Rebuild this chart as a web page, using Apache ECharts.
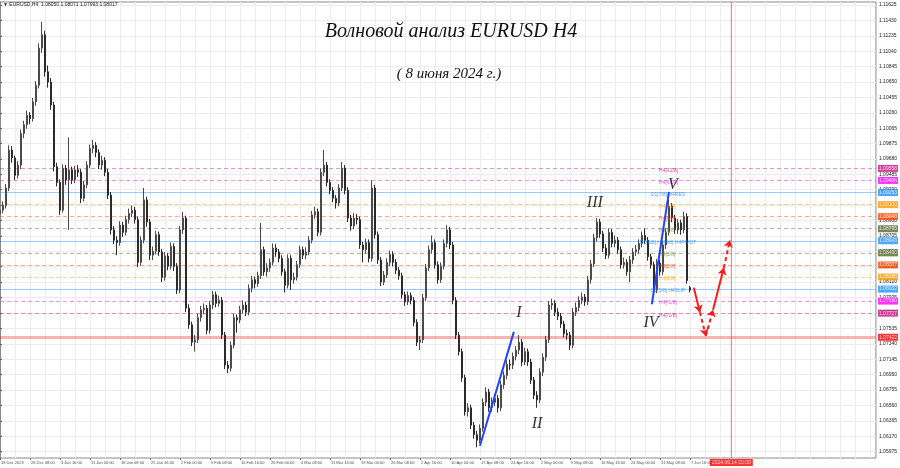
<!DOCTYPE html>
<html><head><meta charset="utf-8">
<script src="https://cdn.jsdelivr.net/npm/echarts@6/dist/echarts.min.js"></script>
<style>html,body{margin:0;padding:0;background:#fff}#c{width:900px;height:468px}</style>
</head><body><div id="c"></div>
<script>
// ---- data ----
const xLabels = ['18 Dec 2023','26 Dec 08:00','3 Jan 16:00','11 Jan 00:00','18 Jan 08:00','25 Jan 16:00','2 Feb 00:00','9 Feb 08:00','16 Feb 16:00','26 Feb 00:00','4 Mar 08:00','11 Mar 16:00','19 Mar 00:00','26 Mar 08:00','2 Apr 16:00','10 Apr 00:00','17 Apr 08:00','24 Apr 16:00','2 May 00:00','9 May 08:00','16 May 16:00','24 May 00:00','31 May 08:00','7 Jun 16:00'];
const yTickValues = [1.05975,1.06170,1.06365,1.06560,1.06755,1.06950,1.07145,1.07340,1.07535,1.07730,1.07925,1.08120,1.08315,1.08510,1.08705,1.08900,1.09095,1.09290,1.09485,1.09680,1.09875,1.10065,1.10260,1.10455,1.10650,1.10845,1.11040,1.11235,1.11430,1.11625];
// candles: [open, close, low, high]
const candles = [
[1.0898,1.0903,1.0893,1.0907],[1.0903,1.0909,1.0899,1.0914],[1.0909,1.0931,1.0905,1.0936],[1.0931,1.0979,1.0927,1.0985],[1.0979,1.0969,1.0963,1.0984],
[1.0969,1.0947,1.0941,1.0972],[1.0947,1.0960,1.0943,1.0965],[1.0960,1.1000,1.0955,1.1005],[1.1000,1.1011,1.0994,1.1016],[1.1011,1.1023,1.1006,1.1029],
[1.1023,1.1019,1.1012,1.1027],[1.1019,1.1040,1.1015,1.1045],[1.1040,1.1061,1.1035,1.1066],[1.1061,1.1108,1.1057,1.1114],[1.1108,1.1125,1.1102,1.1141],
[1.1125,1.1078,1.1072,1.1130],[1.1078,1.1065,1.1058,1.1086],[1.1065,1.1036,1.1030,1.1070],[1.1036,1.0958,1.0952,1.1040],[1.0958,1.0938,1.0933,1.0963],
[1.0938,1.0903,1.0897,1.0942],[1.0903,1.0956,1.0900,1.0961],[1.0956,1.0941,1.0935,1.0960],[1.0941,1.0954,1.0878,1.0995],[1.0954,1.0941,1.0936,1.0958],
[1.0941,1.0954,1.0937,1.0959],[1.0954,1.0951,1.0945,1.0960],[1.0951,1.0918,1.0912,1.0955],[1.0918,1.0935,1.0914,1.0940],[1.0935,1.0960,1.0931,1.0965],
[1.0960,1.0981,1.0956,1.0986],[1.0981,1.0985,1.0975,1.0992],[1.0985,1.0976,1.0970,1.0989],[1.0976,1.0960,1.0955,1.0980],[1.0960,1.0966,1.0954,1.0972],
[1.0966,1.0951,1.0946,1.0970],[1.0951,1.0922,1.0917,1.0955],[1.0922,1.0878,1.0872,1.0926],[1.0878,1.0865,1.0860,1.0883],[1.0865,1.0862,1.0846,1.0870],
[1.0862,1.0884,1.0858,1.0889],[1.0884,1.0875,1.0869,1.0888],[1.0875,1.0891,1.0871,1.0896],[1.0891,1.0899,1.0886,1.0905],[1.0899,1.0903,1.0894,1.0909],
[1.0903,1.0891,1.0886,1.0907],[1.0891,1.0837,1.0831,1.0895],[1.0837,1.0865,1.0833,1.0870],[1.0865,1.0916,1.0861,1.0931],[1.0916,1.0888,1.0882,1.0920],
[1.0888,1.0846,1.0840,1.0892],[1.0846,1.0851,1.0840,1.0857],[1.0851,1.0872,1.0847,1.0877],[1.0872,1.0850,1.0845,1.0876],[1.0850,1.0818,1.0812,1.0854],
[1.0818,1.0845,1.0814,1.0850],[1.0845,1.0832,1.0827,1.0849],[1.0832,1.0857,1.0828,1.0862],[1.0857,1.0832,1.0826,1.0861],[1.0832,1.0802,1.0797,1.0836],
[1.0802,1.0878,1.0798,1.0883],[1.0878,1.0893,1.0873,1.0901],[1.0893,1.0779,1.0774,1.0896],[1.0779,1.0758,1.0753,1.0784],[1.0758,1.0736,1.0731,1.0762],
[1.0736,1.0739,1.0724,1.0745],[1.0739,1.0767,1.0735,1.0772],[1.0767,1.0777,1.0762,1.0782],[1.0777,1.0779,1.0771,1.0785],[1.0779,1.0751,1.0746,1.0783],
[1.0751,1.0783,1.0747,1.0788],[1.0783,1.0796,1.0778,1.0801],[1.0796,1.0785,1.0780,1.0800],[1.0785,1.0789,1.0781,1.0795],[1.0789,1.0745,1.0740,1.0793],
[1.0745,1.0707,1.0702,1.0749],[1.0707,1.0703,1.0697,1.0712],[1.0703,1.0732,1.0699,1.0737],[1.0732,1.0767,1.0728,1.0772],[1.0767,1.0764,1.0748,1.0771],
[1.0764,1.0777,1.0760,1.0782],[1.0777,1.0783,1.0772,1.0789],[1.0783,1.0774,1.0769,1.0787],[1.0774,1.0804,1.0770,1.0809],[1.0804,1.0815,1.0799,1.0820],
[1.0815,1.0810,1.0804,1.0819],[1.0810,1.0820,1.0806,1.0825],[1.0820,1.0853,1.0816,1.0887],[1.0853,1.0825,1.0820,1.0857],[1.0825,1.0830,1.0819,1.0836],
[1.0830,1.0837,1.0825,1.0842],[1.0837,1.0855,1.0833,1.0861],[1.0855,1.0850,1.0844,1.0860],[1.0850,1.0842,1.0837,1.0854],[1.0842,1.0825,1.0820,1.0846],
[1.0825,1.0808,1.0799,1.0829],[1.0808,1.0842,1.0804,1.0847],[1.0842,1.0815,1.0802,1.0846],[1.0815,1.0818,1.0810,1.0824],[1.0818,1.0834,1.0814,1.0839],
[1.0834,1.0853,1.0830,1.0858],[1.0853,1.0846,1.0841,1.0857],[1.0846,1.0850,1.0841,1.0856],[1.0850,1.0865,1.0846,1.0870],[1.0865,1.0897,1.0861,1.0902],
[1.0897,1.0901,1.0892,1.0907],[1.0901,1.0875,1.0870,1.0905],[1.0875,1.0951,1.0871,1.0956],[1.0951,1.0960,1.0946,1.0979],[1.0960,1.0938,1.0933,1.0964],
[1.0938,1.0928,1.0923,1.0942],[1.0928,1.0918,1.0913,1.0932],[1.0918,1.0912,1.0905,1.0922],[1.0912,1.0931,1.0908,1.0936],[1.0931,1.0956,1.0927,1.0964],
[1.0956,1.0928,1.0923,1.0960],[1.0928,1.0893,1.0888,1.0932],[1.0893,1.0883,1.0877,1.0897],[1.0883,1.0893,1.0879,1.0899],[1.0893,1.0891,1.0885,1.0898],
[1.0891,1.0859,1.0854,1.0895],[1.0859,1.0853,1.0837,1.0863],[1.0853,1.0862,1.0848,1.0867],[1.0862,1.0842,1.0837,1.0866],[1.0842,1.0931,1.0838,1.0941],
[1.0931,1.0872,1.0867,1.0935],[1.0872,1.0840,1.0835,1.0876],[1.0840,1.0812,1.0807,1.0844],[1.0812,1.0821,1.0808,1.0826],[1.0821,1.0837,1.0817,1.0842],
[1.0837,1.0847,1.0832,1.0852],[1.0847,1.0837,1.0832,1.0851],[1.0837,1.0827,1.0822,1.0841],[1.0827,1.0820,1.0815,1.0831],[1.0820,1.0796,1.0791,1.0824],
[1.0796,1.0787,1.0782,1.0800],[1.0787,1.0795,1.0783,1.0800],[1.0795,1.0789,1.0784,1.0799],[1.0789,1.0761,1.0756,1.0793],[1.0761,1.0736,1.0731,1.0765],
[1.0736,1.0739,1.0726,1.0744],[1.0739,1.0792,1.0735,1.0797],[1.0792,1.0830,1.0788,1.0835],[1.0830,1.0853,1.0826,1.0858],[1.0853,1.0862,1.0848,1.0871],
[1.0862,1.0834,1.0829,1.0866],[1.0834,1.0815,1.0810,1.0838],[1.0815,1.0832,1.0811,1.0837],[1.0832,1.0861,1.0828,1.0866],[1.0861,1.0878,1.0856,1.0884],
[1.0878,1.0859,1.0854,1.0882],[1.0859,1.0789,1.0784,1.0863],[1.0789,1.0745,1.0740,1.0793],[1.0745,1.0724,1.0719,1.0749],[1.0724,1.0691,1.0686,1.0728],
[1.0691,1.0648,1.0643,1.0695],[1.0648,1.0653,1.0642,1.0659],[1.0653,1.0631,1.0626,1.0657],[1.0631,1.0619,1.0614,1.0635],[1.0619,1.0612,1.0603,1.0624],
[1.0612,1.0627,1.0608,1.0632],[1.0627,1.0660,1.0623,1.0665],[1.0660,1.0673,1.0655,1.0679],[1.0673,1.0653,1.0648,1.0677],[1.0653,1.0660,1.0648,1.0666],
[1.0660,1.0665,1.0655,1.0671],[1.0665,1.0653,1.0647,1.0669],[1.0653,1.0682,1.0649,1.0687],[1.0682,1.0694,1.0677,1.0699],[1.0694,1.0708,1.0689,1.0713],
[1.0708,1.0707,1.0701,1.0714],[1.0707,1.0718,1.0702,1.0723],[1.0718,1.0726,1.0713,1.0731],[1.0726,1.0736,1.0721,1.0745],[1.0736,1.0711,1.0706,1.0740],
[1.0711,1.0724,1.0707,1.0729],[1.0724,1.0711,1.0706,1.0728],[1.0711,1.0688,1.0683,1.0715],[1.0688,1.0669,1.0664,1.0692],[1.0669,1.0663,1.0653,1.0674],
[1.0663,1.0698,1.0659,1.0703],[1.0698,1.0717,1.0693,1.0722],[1.0717,1.0739,1.0712,1.0744],[1.0739,1.0783,1.0735,1.0788],[1.0783,1.0785,1.0777,1.0791],
[1.0785,1.0774,1.0769,1.0789],[1.0774,1.0769,1.0764,1.0779],[1.0769,1.0759,1.0754,1.0773],[1.0759,1.0747,1.0742,1.0763],[1.0747,1.0745,1.0739,1.0752],
[1.0745,1.0732,1.0726,1.0749],[1.0732,1.0774,1.0728,1.0779],[1.0774,1.0780,1.0769,1.0786],[1.0780,1.0789,1.0775,1.0794],[1.0789,1.0793,1.0784,1.0799],
[1.0793,1.0787,1.0782,1.0797],[1.0787,1.0815,1.0783,1.0820],[1.0815,1.0835,1.0810,1.0840],[1.0835,1.0868,1.0831,1.0873],[1.0868,1.0888,1.0863,1.0893],
[1.0888,1.0873,1.0868,1.0892],[1.0873,1.0855,1.0850,1.0877],[1.0855,1.0846,1.0841,1.0860],[1.0846,1.0875,1.0842,1.0880],[1.0875,1.0861,1.0856,1.0879],
[1.0861,1.0865,1.0856,1.0871],[1.0865,1.0853,1.0848,1.0869],[1.0853,1.0834,1.0829,1.0857],[1.0834,1.0837,1.0829,1.0843],[1.0837,1.0825,1.0820,1.0841],
[1.0825,1.0840,1.0812,1.0845],[1.0840,1.0850,1.0835,1.0855],[1.0850,1.0853,1.0845,1.0859],[1.0853,1.0861,1.0848,1.0866],[1.0861,1.0871,1.0856,1.0876],
[1.0871,1.0865,1.0860,1.0880],[1.0865,1.0844,1.0839,1.0869],[1.0844,1.0834,1.0829,1.0848],[1.0834,1.0802,1.0796,1.0838],[1.0802,1.0836,1.0798,1.0841],
[1.0836,1.0825,1.0820,1.0840],[1.0825,1.0859,1.0821,1.0864],[1.0859,1.0875,1.0854,1.0880],[1.0875,1.0908,1.0871,1.0916],[1.0908,1.0893,1.0888,1.0912],
[1.0893,1.0878,1.0873,1.0897],[1.0878,1.0887,1.0873,1.0892],[1.0887,1.0878,1.0872,1.0891],[1.0878,1.0895,1.0874,1.0901],[1.0895,1.0814,1.0810,1.0899],
[1.0805,1.0802,1.0799,1.0807]
];
// Murray levels (price, tag text, inline name)
const levelPrices = [1.09558,1.09406,1.09253,1.09100,1.08948,1.08795,1.08643,1.08490,1.08337,1.08185,1.08032,1.07880,1.07727,1.07422];
const levelTags   = ['1.09558','1.09406','1.09253','1.09100','1.08948','1.08795','1.08643','1.08490','1.08337','1.08185','1.08032','1.07880','1.07727','1.07422'];
const levelNames  = ['H4[+2/8]','H4[+1/8]','D1[7/8] H4RES','H4[7/8]','H4[6/8]','H4[5/8]','D1[6/8] H4[4/8] H4PIVOT','H4[3/8]','H4[2/8]','H4[1/8]','D1[5/8] H4SUP','H4[-1/8]','H4[-2/8]',''];
// wave marks
const waveNames = ['I','II','III','IV','V'];
const waveBar   = [173, 179, 198.3, 217, 224.3];
const wavePrice = [1.0773, 1.0633, 1.0912, 1.0761, 1.0935];
// trend lines (bar, price)
const trendI = [[160, 1.0605], [171.3, 1.0749]];
const trendV = [[217.3, 1.0784], [223, 1.0926]];
// forecast path (bar, price) and segment dash flags
const forecastBar   = [231.3, 233.3, 235.3, 237.7, 241.3, 243.3];
const forecastPrice = [1.0805, 1.0774, 1.0744, 1.0777, 1.0830, 1.0865];
const forecastDashed = [false, true, true, false, true];
const futureLineBar = 243.8;
const futureLabel = '2024.06.14 20:00';
const headerText = '\u25BC EURUSD,H4  1.08050 1.08071 1.07993 1.08017';
const titleText = 'Волновой анализ EURUSD H4';
const subTitleText = '( 8 июня 2024 г.)';

// ---- styles / layout ----
const YMIN = 1.05895, YMAX = 1.11663;
const NCAT = 293;
const levelColors = ['#c71585','#ff00ff','#1e90ff','#ff9900','#ff4500','#556b2f','#1e90ff','#556b2f','#ff4500','#ff9900','#1e90ff','#ff00ff','#c71585','#ff0000'];
const levelTextColors = ['#c71585','#e020e0','#1e90ff','#ff9900','#ff4500','#6b8e23','#1e90ff','#6b8e23','#ff4500','#ff9900','#1e90ff','#e020e0','#c71585',''];
const levelDashed = [true,true,false,true,true,true,false,true,true,true,false,true,true,false];
const nameBar = [219.7,219.7,217,219.7,219.7,219.7,213.3,219.7,219.7,219.7,217,219.7,219.7,0];
const FONT = 'Liberation Sans';

const cats = Array.from({length: NCAT}, (_, i) => String(i));
const labelIdx = i => i % 10 === 0 && i / 10 < xLabels.length;

const chart = echarts.init(document.getElementById('c'), null, {renderer: 'canvas'});

const gridLineData = yTickValues.map(v => ({coords: [[0, v], [NCAT - 1, v]]}));
const levelLineData = levelPrices.map((p, i) => ({
  coords: [[0, p], [NCAT - 1, p]],
  lineStyle: {
    color: levelColors[i],
    type: levelDashed[i] ? [4, 3] : 'solid',
    width: i === 13 ? 3 : 1,
    opacity: i === 13 ? 0.3 : 0.45
  }
}));
const tagData = levelPrices.map((p, i) => ({
  value: [NCAT - 1, p], name: levelTags[i],
  label: {backgroundColor: levelColors[i]}
}));
const nameData = [];
levelNames.forEach((n, i) => {
  if (n) nameData.push({value: [nameBar[i], levelPrices[i]], name: n, label: {color: levelTextColors[i]}});
});
const forecastData = [];
for (let i = 0; i < forecastBar.length - 1; i++) {
  forecastData.push({
    coords: [[forecastBar[i], forecastPrice[i]], [forecastBar[i + 1], forecastPrice[i + 1]]],
    lineStyle: {type: forecastDashed[i] ? [4, 3] : 'solid'}
  });
}
const dateLabelData = xLabels.map((t, k) => ({value: [k * 10, YMIN], name: t}));

const option = {
  backgroundColor: '#ffffff',
  animation: false,
  grid: {left: 0, right: 24, top: 2, bottom: 10, show: true, borderColor: '#8a8a8a', borderWidth: 1},
  xAxis: [{
    type: 'category', data: cats, boundaryGap: false,
    axisLine: {show: false},
    axisTick: {show: true, interval: labelIdx, length: 2, lineStyle: {color: '#666'}},
    axisLabel: {show: false},
    splitLine: {show: true, interval: i => i % 5 === 0, lineStyle: {color: '#ececec', width: 1}}
  }, {
    type: 'value', min: 0, max: NCAT - 1, show: false
  }],
  yAxis: {
    type: 'value', position: 'right', min: YMIN, max: YMAX, scale: true,
    axisLine: {show: true, lineStyle: {color: '#8a8a8a'}},
    axisTick: {show: true, length: 2, customValues: yTickValues, lineStyle: {color: '#666'}},
    axisLabel: {customValues: yTickValues, formatter: v => v.toFixed(5), fontSize: 5, color: '#222',
      fontFamily: FONT, margin: 3},
    splitLine: {show: false}
  },
  graphic: [
    {type: 'text', x: 3, y: 2, z: 100, style: {text: headerText, fontSize: 5, fontFamily: FONT, fill: '#222'}},
    {type: 'text', x: 451, y: 32, z: 100, style: {text: titleText, font: 'italic 20px "Liberation Serif"', fill: '#111', textAlign: 'center', textVerticalAlign: 'middle'}},
    {type: 'text', x: 449, y: 74, z: 100, style: {text: subTitleText, font: 'italic 15px "Liberation Serif"', fill: '#111', textAlign: 'center', textVerticalAlign: 'middle'}}
  ],
  series: [
    { // horizontal grid lines
      type: 'lines', coordinateSystem: 'cartesian2d', xAxisIndex: 1, z: 0, silent: true,
      lineStyle: {color: '#ececec', width: 1, opacity: 1}, data: gridLineData
    },
    { // level lines
      type: 'lines', coordinateSystem: 'cartesian2d', xAxisIndex: 1, z: 1, silent: true,
      data: levelLineData
    },
    {
      type: 'candlestick', data: candles, barWidth: 1.4, z: 3,
      itemStyle: {color: '#a0a0a0', color0: '#2a2a2a', borderColor: '#4a4a4a', borderColor0: '#2a2a2a', borderWidth: 1}
    },
    { // date labels under the plot
      type: 'scatter', xAxisIndex: 1, symbolSize: 0, z: 10, silent: true, clip: false, data: dateLabelData,
      label: {show: true, position: [1, 3], align: 'left', verticalAlign: 'top', formatter: p => p.name,
        color: '#222', fontSize: 4, fontFamily: FONT}
    },
    { // level price tags on the right
      type: 'scatter', xAxisIndex: 1, symbolSize: 0, z: 10, silent: true, clip: false, data: tagData,
      label: {show: true, position: 'right', distance: 2, formatter: p => p.name, color: '#fff',
        fontSize: 5, fontFamily: FONT, padding: [1, 1, 1, 1]}
    },
    { // level names inside the chart
      type: 'scatter', xAxisIndex: 1, symbolSize: 0, z: 5, silent: true, data: nameData,
      label: {show: true, position: 'right', distance: 0, offset: [0, 2], formatter: p => p.name,
        fontSize: 5, fontFamily: FONT}
    },
    { // trend line I
      type: 'line', xAxisIndex: 1, data: trendI, symbol: 'none', z: 6,
      lineStyle: {color: '#2244ff', width: 2}
    },
    { // trend line V
      type: 'line', xAxisIndex: 1, data: trendV, symbol: 'none', z: 6,
      lineStyle: {color: '#2244ff', width: 2}
    },
    { // wave labels
      type: 'scatter', xAxisIndex: 1, symbolSize: 0, z: 7, silent: true,
      data: waveNames.map((n, i) => ({value: [waveBar[i], wavePrice[i]], name: n})),
      label: {show: true, position: 'inside', formatter: p => p.name, color: '#000',
        fontSize: 16, fontStyle: 'italic', fontFamily: 'Liberation Serif'}
    },
    { // future time line
      type: 'line', xAxisIndex: 1, z: 2, silent: true, symbol: 'none',
      data: [[futureLineBar, YMIN], [futureLineBar, YMAX]],
      lineStyle: {color: '#ff4a4a', width: 1, opacity: 0.8}
    },
    { // future time tag
      type: 'scatter', xAxisIndex: 1, symbolSize: 0, z: 10, silent: true, clip: false,
      data: [{value: [futureLineBar, YMIN], name: futureLabel}],
      label: {show: true, position: 'bottom', distance: 1, formatter: p => p.name,
        backgroundColor: '#ff0000', color: '#fff', fontSize: 5, fontFamily: FONT, padding: [1, 2, 1, 2]}
    },
    { // forecast arrows
      type: 'lines', coordinateSystem: 'cartesian2d', xAxisIndex: 1, z: 8,
      symbol: ['none', 'arrow'], symbolSize: 7,
      lineStyle: {color: '#ff1a1a', width: 2, opacity: 1},
      data: forecastData
    }
  ]
};
chart.setOption(option);
</script>
</body></html>
